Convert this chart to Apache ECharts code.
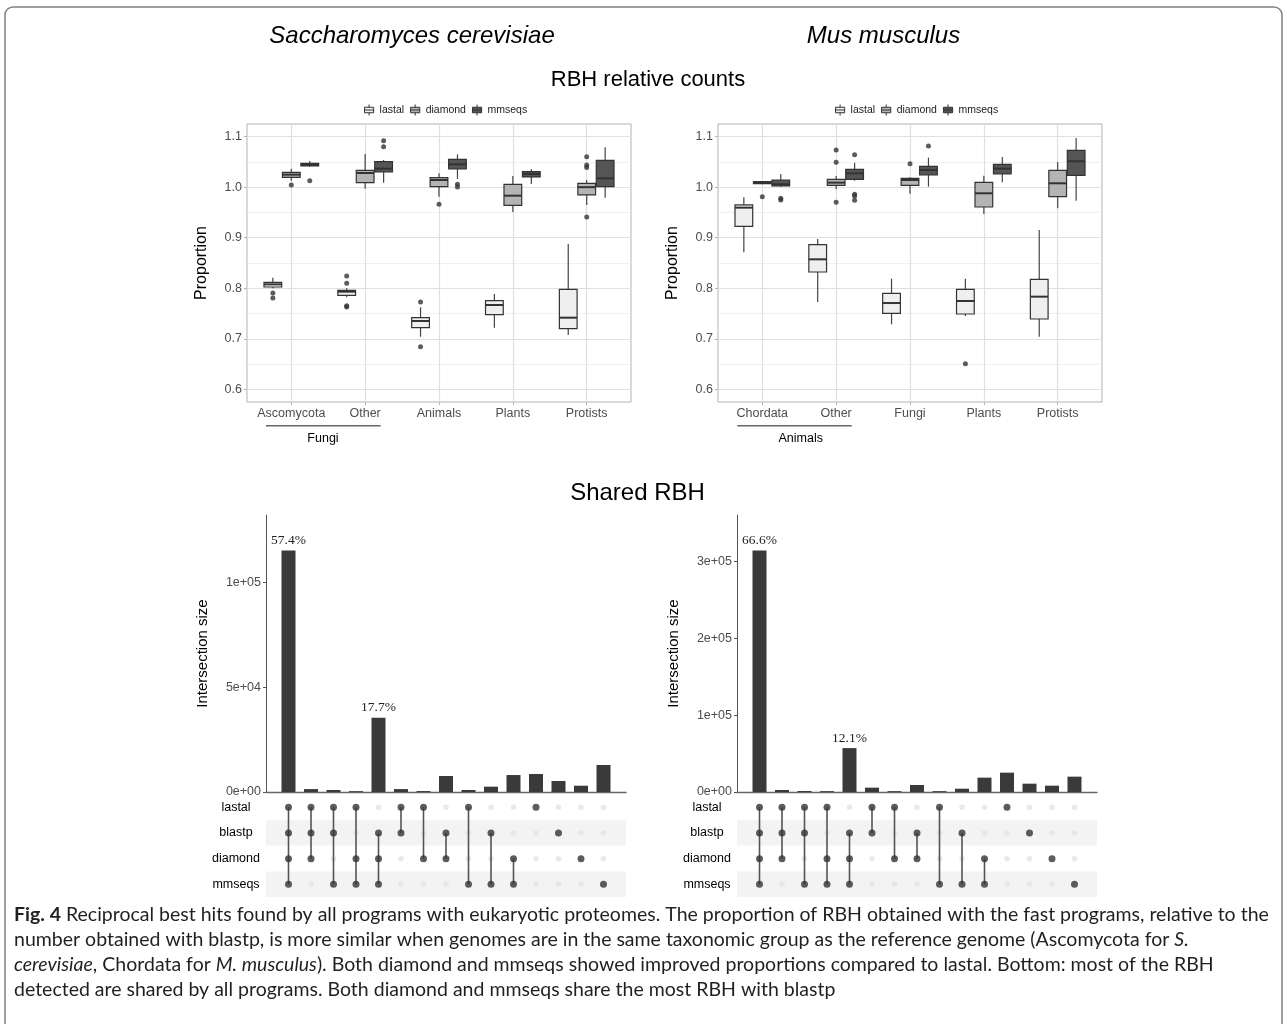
<!DOCTYPE html>
<html>
<head>
<meta charset="utf-8">
<title>RBH</title>
<script src="https://cdn.jsdelivr.net/npm/echarts@6/dist/echarts.min.js"></script>
<style>
  html, body { margin: 0; padding: 0; background: #fff; }
  #main { width: 1287px; height: 1024px; }
</style>
</head>
<body>
<div id="main"></div>
<script>
// box data: [min, Q1, median, Q3, max] per category
const scCats = ['Ascomycota', 'Other', 'Animals', 'Plants', 'Protists']
const scLastal = [[0.800, 0.8025, 0.8078, 0.8117, 0.821], [0.782, 0.786, 0.7933, 0.7959, 0.800], [0.7042, 0.722, 0.7352, 0.7418, 0.7623], [0.722, 0.7478, 0.7669, 0.7755, 0.7887], [0.7075, 0.720, 0.7418, 0.7979, 0.8876]]
const scDiamond = [[1.0129, 1.0195, 1.0248, 1.0294, 1.0367], [0.9971, 1.009, 1.0281, 1.0334, 1.0657], [0.9813, 1.001, 1.0142, 1.0189, 1.0274], [0.9509, 0.9641, 0.9832, 1.0057, 1.0222], [0.9648, 0.9846, 1.000, 1.0077, 1.0142]]
const scMmseqs = [[1.0406, 1.042, 1.0446, 1.0472, 1.0518], [1.009, 1.030, 1.0367, 1.0505, 1.0538], [1.0162, 1.036, 1.0453, 1.0551, 1.065], [1.0063, 1.0202, 1.0261, 1.0307, 1.0354], [0.9793, 1.001, 1.0175, 1.0532, 1.0789]]
// outliers: [category index, value]
const scLastalOut = [[0, 0.7906], [0, 0.7807], [1, 0.8243], [1, 0.8098], [1, 0.7656], [1, 0.763], [2, 0.7728], [2, 0.6844]]
const scDiamondOut = [[0, 1.0044], [2, 0.9661], [4, 1.0604], [4, 1.0439], [4, 1.0387], [4, 0.941]]
const scMmseqsOut = [[0, 1.0129], [1, 1.0921], [1, 1.0802], [2, 1.0057], [2, 1.0004]]

const mmCats = ['Chordata', 'Other', 'Fungi', 'Plants', 'Protists']
const mmLastal = [[0.8711, 0.9226, 0.9595, 0.9648, 0.980], [0.7728, 0.8322, 0.8573, 0.8863, 0.8975], [0.7286, 0.7504, 0.7708, 0.790, 0.819], [0.7451, 0.7491, 0.7748, 0.7979, 0.819], [0.7042, 0.7392, 0.7834, 0.8177, 0.9153]]
const mmDiamond = [[1.0057, 1.007, 1.009, 1.0109, 1.0123], [0.9958, 1.0037, 1.009, 1.0156, 1.0222], [0.9872, 1.0037, 1.0142, 1.0175, 1.0195], [0.947, 0.9608, 0.9879, 1.0096, 1.0228], [0.9582, 0.9813, 1.0077, 1.0334, 1.0499]]
const mmMmseqs = [[1.001, 1.0024, 1.0057, 1.0142, 1.0261], [1.0129, 1.0156, 1.0274, 1.0354, 1.0485], [1.001, 1.0241, 1.034, 1.0413, 1.0584], [1.0096, 1.0261, 1.0367, 1.0453, 1.0598], [0.9733, 1.0235, 1.0512, 1.073, 1.0974]]
const mmLastalOut = [[3, 0.6508]]
const mmDiamondOut = [[0, 0.9813], [1, 1.0736], [1, 1.0492], [1, 0.970], [2, 1.0466]]
const mmMmseqsOut = [[0, 0.978], [0, 0.9747], [1, 1.0644], [1, 0.9859], [1, 0.9826], [1, 0.974], [2, 1.0815]]

const propTicks = [0.6, 0.7, 0.8, 0.9, 1.0, 1.1]
const propMinor = [0.65, 0.75, 0.85, 0.95, 1.05]

// upset data
const setNames = ['lastal', 'blastp', 'diamond', 'mmseqs']
const combos = [
  [1, 1, 1, 1], [1, 1, 1, 0], [1, 1, 0, 1], [1, 0, 1, 1], [0, 1, 1, 1],
  [1, 1, 0, 0], [1, 0, 1, 0], [0, 1, 1, 0], [1, 0, 0, 1], [0, 1, 0, 1],
  [0, 0, 1, 1], [1, 0, 0, 0], [0, 1, 0, 0], [0, 0, 1, 0], [0, 0, 0, 1]
]
const scSizes = [115300, 1400, 950, 400, 35500, 1400, 450, 7650, 950, 2550, 8100, 8600, 5250, 3000, 12900]
const mmSizes = [314400, 2600, 1300, 1100, 57200, 5650, 1100, 9100, 1100, 4300, 18700, 25200, 10850, 8250, 20000]
const scPct = ['57.4%', '', '', '', '17.7%', '', '', '', '', '', '', '', '', '', '']
const mmPct = ['66.6%', '', '', '', '12.1%', '', '', '', '', '', '', '', '', '', '']
const scSizeTicks = [0, 50000, 100000]
const mmSizeTicks = [0, 100000, 200000, 300000]

const programs = ['lastal', 'diamond', 'mmseqs']
const fills = ['#efefef', '#b4b4b4', '#555555']
const offsets = [-0.25, 0, 0.25]
const FONT = 'Liberation Sans, Arial, sans-serif'

let myChart = echarts.init(document.getElementById('main'))

function sci (v) {
  const parts = v.toExponential(0).split('e')
  return parts[0] + 'e' + parts[1][0] + parts[1].slice(1).padStart(2, '0')
}

function boxSeries (name, boxes, k, xi, yi) {
  return {
    name: name,
    type: 'custom',
    xAxisIndex: xi,
    yAxisIndex: yi,
    z: 3,
    itemStyle: { color: fills[k], borderColor: '#333' },
    encode: { x: 0, y: [1, 2, 3, 4, 5] },
    data: boxes.map((b, i) => [i + 1 + offsets[k]].concat(b)),
    renderItem: function (params, api) {
      const x = api.value(0)
      const pMin = api.coord([x, api.value(1)])
      const pQ1 = api.coord([x, api.value(2)])
      const pMed = api.coord([x, api.value(3)])
      const pQ3 = api.coord([x, api.value(4)])
      const pMax = api.coord([x, api.value(5)])
      const l = api.coord([x - 0.12, api.value(3)])[0]
      const r = api.coord([x + 0.12, api.value(3)])[0]
      const ws = { stroke: '#444', lineWidth: 1.2 }
      return {
        type: 'group',
        children: [
          { type: 'line', shape: { x1: pMax[0], y1: pMax[1], x2: pQ3[0], y2: pQ3[1] }, style: ws },
          { type: 'line', shape: { x1: pQ1[0], y1: pQ1[1], x2: pMin[0], y2: pMin[1] }, style: ws },
          { type: 'rect', shape: { x: l, y: pQ3[1], width: r - l, height: pQ1[1] - pQ3[1] }, style: { fill: fills[k], stroke: '#333', lineWidth: 1.2 } },
          { type: 'line', shape: { x1: l, y1: pMed[1], x2: r, y2: pMed[1] }, style: { stroke: '#333', lineWidth: 2 } }
        ]
      }
    }
  }
}

function outlierSeries (name, pts, k, xi, yi) {
  return {
    name: name,
    type: 'scatter',
    xAxisIndex: xi,
    yAxisIndex: yi,
    z: 4,
    symbolSize: 5,
    itemStyle: { color: '#333' },
    data: pts.map(p => [p[0] + 1 + offsets[k], p[1]])
  }
}

function propXAxis (gi, cats) {
  return {
    type: 'value', gridIndex: gi, min: 0.4, max: 5.6,
    axisLine: { show: false },
    axisTick: { show: true, length: 3, customValues: [1, 2, 3, 4, 5], lineStyle: { color: '#b3b3b3' } },
    axisLabel: { customValues: [1, 2, 3, 4, 5], formatter: v => cats[Math.round(v) - 1], color: '#4d4d4d', fontSize: 12.5, fontFamily: FONT, margin: 5 },
    splitLine: { show: true, lineStyle: { color: '#e0e0e0', width: 1.2 } }
  }
}

function propYAxes (gi) {
  return [{
    type: 'value', gridIndex: gi, min: 0.575, max: 1.125,
    name: 'Proportion', nameLocation: 'middle', nameGap: 37,
    nameTextStyle: { fontSize: 16, color: '#000', fontFamily: FONT },
    axisLine: { show: false },
    axisTick: { show: true, length: 3, customValues: propTicks, lineStyle: { color: '#b3b3b3' } },
    axisLabel: { customValues: propTicks, formatter: v => v.toFixed(1), color: '#4d4d4d', fontSize: 12.5, fontFamily: FONT, margin: 5 },
    splitLine: { show: true, lineStyle: { color: '#e0e0e0', width: 1.2 } }
  }, {
    type: 'value', gridIndex: gi, min: 0.575, max: 1.125,
    axisLine: { show: false },
    axisTick: { show: false, customValues: propMinor },
    axisLabel: { show: false },
    splitLine: { show: true, lineStyle: { color: '#ececec', width: 0.8 } }
  }]
}

function sizeXAxis (gi, showLine) {
  return {
    type: 'value', gridIndex: gi, min: 0, max: 16,
    axisLine: { show: showLine, onZero: false, lineStyle: { color: '#666', width: 1.3 } },
    axisTick: { show: false }, axisLabel: { show: false }, splitLine: { show: false }
  }
}

function sizeYAxis (gi, max, ticks) {
  return {
    type: 'value', gridIndex: gi, min: 0, max: max,
    name: 'Intersection size', nameLocation: 'middle', nameGap: 56,
    nameTextStyle: { fontSize: 15, color: '#000', fontFamily: FONT },
    axisLine: { show: true, lineStyle: { color: '#555', width: 1 } },
    axisTick: { show: true, length: 3, customValues: ticks, lineStyle: { color: '#555' } },
    axisLabel: { customValues: ticks, formatter: sci, color: '#4d4d4d', fontSize: 12.5, fontFamily: FONT, margin: 5 },
    splitLine: { show: false }
  }
}

function setYAxis (gi) {
  return {
    type: 'category', gridIndex: gi, inverse: true, data: setNames,
    axisLine: { show: false }, axisTick: { show: false },
    axisLabel: { color: '#000', fontSize: 12.5, fontFamily: FONT, align: 'center', margin: 30 },
    splitLine: { show: false },
    splitArea: { show: true, areaStyle: { color: ['#ffffff', '#f3f3f3'] } }
  }
}

function upsetSeries (sizes, pct, xb, yb, xm, ym) {
  const on = []
  const off = []
  const links = []
  combos.forEach((c, i) => {
    const idx = []
    c.forEach((m, r) => {
      if (m) { on.push([i + 1, setNames[r]]); idx.push(r) } else off.push([i + 1, setNames[r]])
    })
    links.push([i + 1, Math.min(...idx), Math.max(...idx)])
  })
  return [{
    type: 'bar', xAxisIndex: xb, yAxisIndex: yb, barWidth: 14,
    itemStyle: { color: '#3a3a3a' },
    label: { show: true, position: 'top', distance: 3, fontFamily: 'Liberation Serif, serif', fontSize: 13.5, color: '#222', formatter: p => pct[p.dataIndex] },
    data: sizes.map((v, i) => [i + 1, v])
  }, {
    type: 'scatter', xAxisIndex: xm, yAxisIndex: ym, symbolSize: 5.5, z: 2,
    itemStyle: { color: '#e3e3e3' }, data: off
  }, {
    type: 'custom', xAxisIndex: xm, yAxisIndex: ym, z: 3,
    data: links,
    renderItem: function (params, api) {
      const p1 = api.coord([api.value(0), api.value(1)])
      const p2 = api.coord([api.value(0), api.value(2)])
      return { type: 'line', shape: { x1: p1[0], y1: p1[1], x2: p2[0], y2: p2[1] }, style: { stroke: '#555', lineWidth: 1.6 } }
    }
  }, {
    type: 'scatter', xAxisIndex: xm, yAxisIndex: ym, symbolSize: 7, z: 4,
    itemStyle: { color: '#333' }, data: on
  }]
}

const legendIcon = 'path://M0,3H10V9H0ZM0,6H10M5,0V3M5,9V12'
function legendAt (left) {
  return {
    left: left, top: 99, itemWidth: 11, itemHeight: 11, itemGap: 6,
    textStyle: { fontSize: 10.5, color: '#1a1a1a', fontFamily: FONT },
    data: programs.map((p, k) => ({ name: p, icon: legendIcon, itemStyle: { color: fills[k], borderColor: '#333', borderWidth: 1 } }))
  }
}

function txt (x, y, text, size, extra) {
  return {
    type: 'text', x: x, y: y, silent: true,
    style: Object.assign({ text: text, fontSize: size, fontFamily: FONT, fill: '#000', align: 'center', verticalAlign: 'middle' }, extra || {})
  }
}

const capStyle = { fontSize: 19.5, fontFamily: 'Lato, Open Sans, sans-serif', color: '#231f20' }
const caption = [
  '{b|Fig. 4}{n| Reciprocal best hits found by all programs with eukaryotic proteomes. The proportion of RBH obtained with the fast programs, relative to the}',
  '{n|number obtained with blastp, is more similar when genomes are in the same taxonomic group as the reference genome (Ascomycota for }{i|S.}',
  '{i|cerevisiae}{n|, Chordata for }{i|M. musculus}{n|). Both diamond and mmseqs showed improved proportions compared to lastal. Bottom: most of the RBH}',
  '{n|detected are shared by all programs. Both diamond and mmseqs share the most RBH with blastp}'
].join('\n')

let series = []
const sc = [scLastal, scDiamond, scMmseqs]
const scOut = [scLastalOut, scDiamondOut, scMmseqsOut]
const mm = [mmLastal, mmDiamond, mmMmseqs]
const mmOut = [mmLastalOut, mmDiamondOut, mmMmseqsOut]
programs.forEach((p, k) => {
  series.push(boxSeries(p, sc[k], k, 0, 0))
  series.push(outlierSeries(p, scOut[k], k, 0, 0))
  series.push(boxSeries(p, mm[k], k, 1, 2))
  series.push(outlierSeries(p, mmOut[k], k, 1, 2))
})
series = series.concat(upsetSeries(scSizes, scPct, 2, 4, 3, 5))
series = series.concat(upsetSeries(mmSizes, mmPct, 4, 6, 5, 7))

myChart.setOption({
  animation: false,
  backgroundColor: '#fff',
  legend: [legendAt(359), legendAt(830)],
  grid: [
    { left: 247, top: 124, width: 384, height: 278, show: true, borderColor: '#b3b3b3', borderWidth: 1, backgroundColor: 'transparent' },
    { left: 718, top: 124, width: 384, height: 278, show: true, borderColor: '#b3b3b3', borderWidth: 1, backgroundColor: 'transparent' },
    { left: 266, top: 515, width: 360, height: 277 },
    { left: 266, top: 794.5, width: 360, height: 102.6 },
    { left: 737, top: 515, width: 360, height: 277 },
    { left: 737, top: 794.5, width: 360, height: 102.6 }
  ],
  xAxis: [propXAxis(0, scCats), propXAxis(1, mmCats), sizeXAxis(2, true), sizeXAxis(3, false), sizeXAxis(4, true), sizeXAxis(5, false)],
  yAxis: propYAxes(0).concat(propYAxes(1), [sizeYAxis(2, 132300, scSizeTicks), setYAxis(3), sizeYAxis(4, 360800, mmSizeTicks), setYAxis(5)]),
  series: series,
  graphic: [
    { type: 'rect', silent: true, shape: { x: 5, y: 7, width: 1277, height: 1060, r: 8 }, style: { fill: 'none', stroke: '#808080', lineWidth: 1.5 } },
    txt(412, 36, 'Saccharomyces cerevisiae', 24, { fontStyle: 'italic' }),
    txt(883.5, 36, 'Mus musculus', 24, { fontStyle: 'italic' }),
    txt(648, 80, 'RBH relative counts', 22),
    txt(637.5, 493, 'Shared RBH', 24),
    { type: 'line', silent: true, shape: { x1: 266, y1: 425.7, x2: 380.7, y2: 425.7 }, style: { stroke: '#666', lineWidth: 1.5 } },
    { type: 'line', silent: true, shape: { x1: 737.3, y1: 425.7, x2: 851.7, y2: 425.7 }, style: { stroke: '#666', lineWidth: 1.5 } },
    txt(323, 439, 'Fungi', 12.5),
    txt(800.7, 439, 'Animals', 12.5),
    {
      type: 'text', silent: true, x: 14, y: 902,
      style: {
        text: caption, lineHeight: 25, fill: '#231f20', fontSize: 19.5, fontFamily: capStyle.fontFamily,
        rich: {
          n: Object.assign({ lineHeight: 25 }, capStyle),
          b: Object.assign({ lineHeight: 25, fontWeight: 'bold' }, capStyle),
          i: Object.assign({ lineHeight: 25, fontStyle: 'italic' }, capStyle)
        }
      }
    }
  ]
})
</script>
</body>
</html>
